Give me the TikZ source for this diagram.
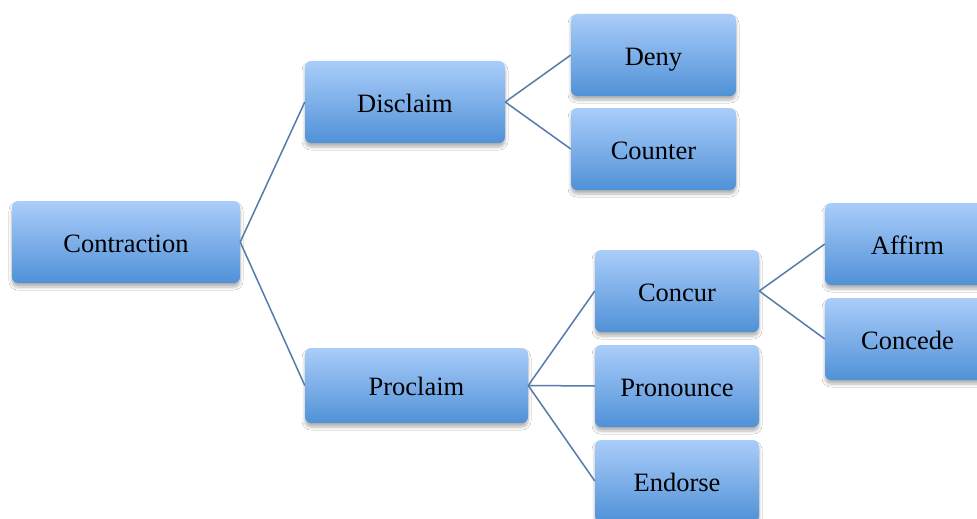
\documentclass[tikz,border=0pt]{standalone}
\usepackage{fontspec}
\setmainfont{Liberation Serif}
\usetikzlibrary{shadows.blur}
\definecolor{boxtop}{RGB}{170,205,250}
\definecolor{boxbottom}{RGB}{80,145,215}
\definecolor{linkcol}{RGB}{84,124,170}
\tikzset{
  box/.style={rectangle, rounded corners=6pt, top color=boxtop, bottom color=boxbottom,
    draw=none, minimum height=82pt, inner sep=0pt,
    font=\fontsize{26.5}{30}\selectfont, text height=20.5pt, text depth=0pt,
    blur shadow={shadow xshift=0pt, shadow yshift=-4pt, shadow blur steps=6, shadow opacity=30, shadow blur radius=3pt}},
  link/.style={draw=linkcol, line width=1.5pt}
}
\begin{document}
\begin{tikzpicture}[x=1pt, y=-1pt]
\useasboundingbox (0,0) rectangle (977,519);
\clip (0,0) rectangle (977,519);
\fill[white] (0,0) rectangle (977,519);
% level 0
\node[box, minimum width=228pt] (contraction) at (126,242) {Contraction};
% level 1
\node[box, minimum width=200pt] (disclaim) at (405,102) {Disclaim};
\node[box, minimum width=223pt, minimum height=75pt] (proclaim) at (416.5,385.5) {Proclaim};
% level 2
\node[box, minimum width=165pt] (deny) at (653.5,55) {Deny};
\node[box, minimum width=165pt] (counter) at (653.5,149) {Counter};
\node[box, minimum width=164pt] (concur) at (677,291) {Concur};
\node[box, minimum width=164pt] (pronounce) at (677,386) {Pronounce};
\node[box, minimum width=164pt] (endorse) at (677,481) {Endorse};
% level 3
\node[box, minimum width=165pt] (affirm) at (907.5,244) {Affirm};
\node[box, minimum width=165pt] (concede) at (907.5,339) {Concede};
% connectors
\draw[link] (contraction.east) -- (disclaim.west);
\draw[link] (contraction.east) -- (proclaim.west);
\draw[link] (disclaim.east) -- (deny.west);
\draw[link] (disclaim.east) -- (counter.west);
\draw[link] (proclaim.east) -- (concur.west);
\draw[link] (proclaim.east) -- (pronounce.west);
\draw[link] (proclaim.east) -- (endorse.west);
\draw[link] (concur.east) -- (affirm.west);
\draw[link] (concur.east) -- (concede.west);
\end{tikzpicture}
\end{document}
